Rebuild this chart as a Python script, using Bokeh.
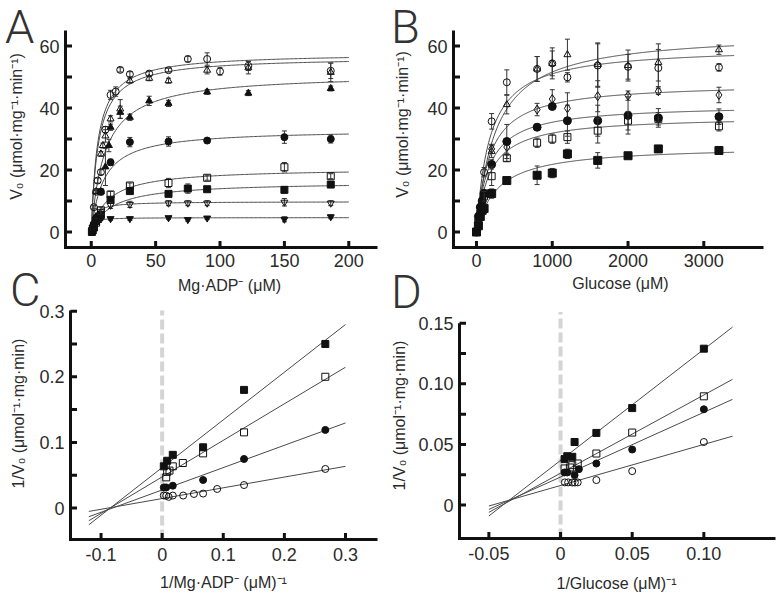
import numpy as np
from bokeh.plotting import figure
from bokeh.models import Range1d, Div
from bokeh.layouts import column, row
from bokeh.embed import file_html
from bokeh.resources import INLINE
from bokeh.core.properties import value

FONT = "Liberation Sans"
INK = "#111111"
TXT = "#2b2b2b"
CURVE = "#4a4a4a"

# ---------------- Panel A : V0 vs Mg.ADP- ----------------
a_xticks = [0, 50, 100, 150, 200]
a_yticks = [0, 20, 40, 60]
a_yminor = [10, 30, 50]

a_oc_x = [2, 3.75, 5, 7.5, 11, 15, 19, 22.5, 30, 45, 60, 75, 90, 100, 122, 186]
a_oc_y = [8, 13, 16.6, 19.3, 33, 44.2, 45.3, 52.3, 50.9, 51.1, 52.2, 55.8, 55.8, 51.8, 53.6, 52]
a_oc_e = [0.5, 0.5, 0.8, 0.8, 1, 1.5, 1.5, 0.7, 0.8, 0.8, 0.6, 0.9, 2, 1.2, 1.5, 2.5]

a_ot_x = [3.75, 7.5, 9, 11, 15, 22.5, 30, 45, 60, 90, 122, 186]
a_ot_y = [13, 25.2, 27.9, 31, 36.5, 39.7, 48.8, 49.6, 48.8, 52.2, 53, 51.5]
a_ot_e = [0.5, 0.8, 0.8, 2, 1, 3, 0.8, 0.8, 0.8, 1.2, 2, 3]

a_ft_x = [3.75, 7.5, 11, 13.7, 15, 22.5, 30, 45, 60, 90, 122, 186]
a_ft_y = [5, 13, 21, 27.9, 33.8, 38.6, 37, 42.3, 41.5, 45.2, 44.8, 46.3]
a_ft_e = [0.5, 1, 6, 2, 1, 2, 1, 1.5, 1, 0.8, 0.8, 0.8]

a_fc_x = [1, 2, 3.75, 7.5, 15, 30, 60, 90, 150, 186]
a_fc_y = [1, 2.5, 4.5, 13, 22.5, 29, 29.2, 29.5, 30.6, 30]
a_fc_e = [0.3, 0.3, 0.5, 1, 1, 1.5, 1.5, 0.8, 2, 1.3]

a_os_x = [1, 2, 3.75, 7.5, 15, 30, 60, 90, 150, 186]
a_os_y = [0.5, 1.5, 3, 7, 12.1, 15, 15.8, 17.5, 20.9, 18]
a_os_e = [0.3, 0.3, 0.5, 1, 1, 0.8, 1.5, 0.8, 1.5, 0.8]

a_fs_x = [0.5, 1, 2, 3.75, 7.5, 15, 30, 60, 75, 90, 150, 186]
a_fs_y = [0, 0.5, 1.5, 3.5, 5.5, 10.4, 13.2, 12.3, 14, 13.8, 13.6, 15.3]
a_fs_e = [0.3, 0.3, 0.3, 0.5, 0.8, 0.8, 0.8, 0.8, 1.5, 0.8, 1, 0.8]

a_otd_x = [1, 2, 3.75, 7.5, 15, 30, 60, 75, 90, 150, 186]
a_otd_y = [1, 2, 4, 6.5, 8.6, 8.9, 9.3, 9.3, 9.3, 9.6, 9.3]
a_otd_e = [0.3, 0.3, 0.5, 0.8, 1, 1, 0.8, 0.8, 0.8, 1.2, 0.8]

a_ftd_x = [1, 2, 3.75, 7.5, 15, 30, 60, 75, 90, 150, 186]
a_ftd_y = [1.5, 2.5, 3.5, 4.2, 4.3, 4.3, 4.6, 4.0, 4.5, 4.1, 4.9]
a_ftd_e = [0.3, 0.3, 0.3, 0.4, 0.5, 0.5, 0.5, 0.5, 0.5, 0.8, 0.6]

# fitted Michaelis-Menten parameters (top to bottom curve)
a_vmax = [57.7, 56.5, 51.1, 33.1, 20.6, 16.2, 9.8, 4.65]
a_km = [5.1, 5.5, 10.6, 9.5, 13.1, 16.0, 2.7, 1.5]

# ---------------- Panel B : V0 vs glucose ----------------
b_xticks = [0, 1000, 2000, 3000]
b_yticks = [0, 20, 40, 60]
b_yminor = [10, 30, 50]

b_ot_x = [25, 50, 100, 200, 400, 800, 1000, 1200, 1600, 2000, 2400, 3200]
b_ot_y = [3, 6, 12, 26, 41.1, 52.6, 54.4, 57.2, 54, 53.7, 54.7, 58.8]
b_ot_e = [0.5, 0.5, 1, 2, 3, 4, 5, 5, 7, 5, 6, 1.5]

b_oc_x = [25, 50, 100, 200, 400, 800, 1000, 1200, 1600, 2000, 2400, 3200]
b_oc_y = [4, 8, 19.3, 35.7, 48.3, 52.6, 54.4, 49.9, 53.7, 53.3, 52.9, 53.1]
b_oc_e = [0.5, 1, 1.5, 2.5, 4, 4, 4, 1.5, 7, 4, 6, 1.2]

b_od_x = [25, 50, 100, 200, 400, 800, 1000, 1200, 1600, 2000, 2400, 3200]
b_od_y = [3, 6.5, 12, 26.8, 27.4, 39.5, 42.9, 39.9, 43.8, 44.0, 45.4, 44.2]
b_od_e = [0.5, 0.5, 1, 1.5, 2, 2, 3, 5, 5, 1.5, 1, 2.5]

b_fc_x = [0, 25, 50, 75, 100, 200, 400, 800, 1000, 1200, 1600, 2000, 2400, 3200]
b_fc_y = [0, 5, 8, 10, 12.5, 21.8, 29.2, 33.8, 40.5, 35.9, 35.9, 37.6, 36.8, 37.2]
b_fc_e = [0.3, 0.5, 0.8, 1, 1, 1.5, 5.5, 1, 1, 5, 5, 6, 3, 2.5]

b_os_x = [0, 25, 50, 100, 200, 400, 800, 1000, 1200, 1600, 2000, 2400, 3200]
b_os_y = [0, 3, 6, 11.5, 18, 23.8, 28.8, 30.1, 30.6, 32.7, 35.9, 36.5, 34.1]
b_os_e = [0.3, 0.5, 0.8, 1.5, 3, 1, 1.5, 1.5, 2, 4, 3, 2, 1.5]

b_fs_x = [0, 25, 50, 75, 100, 200, 400, 800, 1000, 1200, 1600, 2000, 2400, 3200]
b_fs_y = [0, 2, 5, 7, 7.6, 12.4, 16.6, 18.3, 19.0, 25.2, 23.1, 24.6, 26.8, 26.3]
b_fs_e = [0.3, 0.3, 0.5, 0.8, 1, 1.5, 1, 3, 1.5, 1.5, 2.5, 0.8, 0.8, 0.8]

b_vmax = [64.5, 59.8, 48.1, 41.1, 37.4, 27.8]
b_km = [250, 172, 168, 161, 173, 275]

# ---------------- Panel C : double reciprocal, Mg.ADP- ----------------
c_xticks = [-0.1, 0, 0.1, 0.2, 0.3]
c_xlabels = ["-0.1", "0", "0.1", "0.2", "0.3"]
c_yticks = [0, 0.1, 0.2, 0.3]
c_ylabels = ["0", "0.1", "0.2", "0.3"]
c_yminor = [0.05, 0.15, 0.25]

c_fs_x = [0.0027, 0.0082, 0.0174, 0.067, 0.134, 0.267]
c_fs_y = [0.0635, 0.072, 0.081, 0.0925, 0.180, 0.250]
c_os_x = [0.0066, 0.0082, 0.012, 0.0174, 0.0338, 0.067, 0.134, 0.267]
c_os_y = [0.0467, 0.055, 0.057, 0.0635, 0.0686, 0.0833, 0.1153, 0.200]
c_fc_x = [0.0027, 0.0066, 0.0174, 0.067, 0.134, 0.267]
c_fc_y = [0.0314, 0.0314, 0.034, 0.0427, 0.0747, 0.119]
c_oc_x = [0.0027, 0.0066, 0.0107, 0.0174, 0.0344, 0.052, 0.067, 0.090, 0.134, 0.267]
c_oc_y = [0.019, 0.0188, 0.017, 0.019, 0.019, 0.0214, 0.022, 0.029, 0.035, 0.0595]
c_line_x = [-0.12, 0.3]
c_line_fs = [-0.0255, 0.2796]
c_line_os = [-0.0194, 0.2145]
c_line_fc = [-0.0133, 0.1296]
c_line_oc = [-0.0052, 0.0635]

# ---------------- Panel D : double reciprocal, glucose ----------------
d_xticks = [-0.05, 0, 0.05, 0.1]
d_xlabels = ["-0.05", "0", "0.05", "0.10"]
d_yticks = [0, 0.05, 0.1, 0.15]
d_ylabels = ["0", "0.05", "0.10", "0.15"]
d_yminor = [0.025, 0.075, 0.125]

d_fs_x = [0.0028, 0.0047, 0.0082, 0.0098, 0.025, 0.05, 0.1]
d_fs_y = [0.0379, 0.0403, 0.0398, 0.052, 0.0595, 0.080, 0.129]
d_os_x = [0.0028, 0.0065, 0.0082, 0.012, 0.025, 0.05, 0.1]
d_os_y = [0.0302, 0.031, 0.0329, 0.0343, 0.0425, 0.0598, 0.0897]
d_fc_x = [0.0028, 0.0047, 0.0098, 0.0128, 0.025, 0.05, 0.1]
d_fc_y = [0.0269, 0.0269, 0.0247, 0.0296, 0.0343, 0.0458, 0.079]
d_oc_x = [0.003, 0.0053, 0.0082, 0.01, 0.012, 0.025, 0.05, 0.1]
d_oc_y = [0.0187, 0.0187, 0.0186, 0.0186, 0.0187, 0.0206, 0.028, 0.052]
d_line_x = [-0.05, 0.12]
d_line_fs = [-0.009, 0.1468]
d_line_os = [-0.006, 0.1037]
d_line_fc = [-0.0036, 0.0872]
d_line_oc = [-0.0008, 0.0568]

MARKERS = {
    "oc": ("circle", False), "fc": ("circle", True),
    "ot": ("triangle", False), "ft": ("triangle", True),
    "os": ("square", False), "fs": ("square", True),
    "otd": ("inverted_triangle", False), "ftd": ("inverted_triangle", True),
    "od": ("diamond", False),
}


class Panel:
    """A figure whose plotting area covers the whole canvas; the axes
    (box L,R,T,B in canvas pixels spanning xr x yr) are drawn as glyphs."""

    def __init__(self, W, H, box, xr, yr):
        L, R, T, B = box
        self.xr, self.yr = xr, yr
        self.sx = (R - L) / (xr[1] - xr[0])
        self.sy = (B - T) / (yr[1] - yr[0])
        self.x0 = xr[0] - L / self.sx
        self.x1 = xr[1] + (W - R) / self.sx
        self.y0 = yr[0] - (H - B) / self.sy
        self.y1 = yr[1] + T / self.sy
        p = figure(width=W, height=H, x_range=Range1d(self.x0, self.x1),
                   y_range=Range1d(self.y0, self.y1), output_backend="svg",
                   toolbar_location=None, title=None, x_axis_location=None,
                   y_axis_location=None, min_border=0)
        p.outline_line_color = None
        p.xgrid.visible = False
        p.ygrid.visible = False
        self.p = p

    def X(self, px):
        return self.x0 + px / self.sx

    def Y(self, py):
        return self.y1 - py / self.sy

    def zero_line(self, ytop):
        self.p.segment(x0=[0], y0=[self.yr[0]], x1=[0], y1=[ytop], line_color="#d4d4d4",
                       line_width=4, line_dash="10 4")

    def axes(self, xt, xl, yt, yl, yminor, xlab, ylab, xlab_px, ylab_px, gap, ytop=None):
        p = self.p
        xa, xb = self.xr
        ya, yb = self.yr
        top = yb if ytop is None else ytop
        hx = 1.5 / self.sx
        hy = 1.5 / self.sy
        tx = 6.5 / self.sx
        ty = 6.5 / self.sy
        # axis rules as filled thin rectangles
        p.quad(left=[xa - hx, xa - hx], right=[xb, xa + hx],
               bottom=[ya - hy, ya - hy], top=[ya + hy, top],
               fill_color=INK, line_color=None)
        # inward ticks as filled thin rectangles
        n = len(xt)
        p.quad(left=[t - hx for t in xt], right=[t + hx for t in xt],
               bottom=[ya] * n, top=[ya + ty] * n, fill_color=INK, line_color=None)
        yall = list(yt) + list(yminor)
        m = len(yall)
        p.quad(left=[xa] * m, right=[xa + tx] * m,
               bottom=[v - hy for v in yall], top=[v + hy for v in yall],
               fill_color=INK, line_color=None)
        p.text(x=xt, y=[ya - gap / self.sy] * n, text=xl, text_font=value(FONT),
               text_font_size="18px", text_color=TXT, text_align="center",
               text_baseline="middle")
        k = len(yt)
        p.text(x=[xa - 6 / self.sx] * k, y=yt, text=yl, text_font=value(FONT),
               text_font_size="18px", text_color=TXT, text_align="right",
               text_baseline="middle")
        p.text(x=[self.X(xlab_px[0])], y=[self.Y(xlab_px[1])], text=[xlab],
               text_font=value(FONT), text_font_size="16px", text_color=TXT,
               text_align="center", text_baseline="middle")
        p.text(x=[self.X(ylab_px[0])], y=[self.Y(ylab_px[1])], text=[ylab],
               text_font=value(FONT), text_font_size="16px", text_color=TXT,
               text_align="center", text_baseline="middle", angle=np.pi / 2)


def points(p, x, y, kind, size=7, err=None):
    marker, filled = MARKERS[kind]
    if err is not None:
        lo = [a - e for a, e in zip(y, err)]
        hi = [a + e for a, e in zip(y, err)]
        p.segment(x0=x, y0=lo, x1=x, y1=hi, line_color="#333333", line_width=1)
        p.scatter(x=list(x) + list(x), y=lo + hi, marker="dash", size=5,
                  line_color="#333333", line_width=1)
    p.scatter(x=x, y=y, marker=marker, size=size, line_color=INK, line_width=1,
              fill_color=INK if filled else None)


def letter(text, left, top):
    return Div(text=text, width=40, height=40,
               styles={"position": "absolute", "left": f"{left}px", "top": f"{top}px",
                       "font-family": "Roboto", "font-weight": "300", "font-size": "47px",
                       "line-height": "40px", "color": "#333333", "z-index": "10",
                       "overflow": "visible"})


# ---------- A ----------
A = Panel(390, 298, (65, 377, 30, 247), (-20, 222.3), (-5, 65))
ax_a = np.linspace(0, 200, 201)
for vm, km in zip(a_vmax, a_km):
    A.p.line(ax_a, vm * ax_a / (km + ax_a), line_color=CURVE, line_width=1)
points(A.p, a_oc_x, a_oc_y, "oc", err=a_oc_e)
points(A.p, a_ot_x, a_ot_y, "ot", err=a_ot_e)
points(A.p, a_ft_x, a_ft_y, "ft", err=a_ft_e)
points(A.p, a_fc_x, a_fc_y, "fc", err=a_fc_e)
points(A.p, a_os_x, a_os_y, "os", err=a_os_e)
points(A.p, a_fs_x, a_fs_y, "fs", err=a_fs_e)
points(A.p, a_otd_x, a_otd_y, "otd", err=a_otd_e)
points(A.p, a_ftd_x, a_ftd_y, "ftd", err=a_ftd_e)
A.axes(a_xticks, [str(t) for t in a_xticks], a_yticks, [str(t) for t in a_yticks], a_yminor,
       "Mg·ADP⁻ (μM)", "V₀ (μmol·mg⁻¹·min⁻¹)", (229, 285), (16, 126), 13)

# ---------- B ----------
B = Panel(392, 298, (63, 373, 30, 247), (-303.6, 3788), (-5, 65))
bx = np.linspace(0, 3400, 341)
for vm, km in zip(b_vmax, b_km):
    B.p.line(bx, vm * bx / (km + bx), line_color=CURVE, line_width=1)
points(B.p, b_ot_x, b_ot_y, "ot", err=b_ot_e)
points(B.p, b_oc_x, b_oc_y, "oc", err=b_oc_e)
points(B.p, b_od_x, b_od_y, "od", size=9, err=b_od_e)
points(B.p, b_fc_x, b_fc_y, "fc", size=8, err=b_fc_e)
points(B.p, b_os_x, b_os_y, "os", err=b_os_e)
points(B.p, b_fs_x, b_fs_y, "fs", size=8, err=b_fs_e)
B.axes(b_xticks, [str(t) for t in b_xticks], b_yticks, [str(t) for t in b_yticks], b_yminor,
       "Glucose (μM)", "V₀ (μmol·mg⁻¹·min⁻¹)", (230, 283), (12, 124), 13)

# ---------- C ----------
C = Panel(390, 300, (70, 377, 12, 241), (-0.150, 0.3524), (-0.048, 0.301))
C.zero_line(0.301)
for ys in (c_line_fs, c_line_os, c_line_fc, c_line_oc):
    C.p.line(c_line_x, ys, line_color=CURVE, line_width=1)
points(C.p, c_fs_x, c_fs_y, "fs")
points(C.p, c_os_x, c_os_y, "os")
points(C.p, c_fc_x, c_fc_y, "fc")
points(C.p, c_oc_x, c_oc_y, "oc")
C.axes(c_xticks, c_xlabels, c_yticks, c_ylabels, c_yminor,
       "1/Mg·ADP⁻ (μM)⁻¹", "1/V₀ (μmol⁻¹·mg·min)", (223, 284), (18, 115), 15)

# ---------- D ----------
D = Panel(392, 300, (69, 385, 12, 240), (-0.0705, 0.150), (-0.0276, 0.1605))
D.zero_line(D.Y(13.5))
for ys in (d_line_fs, d_line_os, d_line_fc, d_line_oc):
    D.p.line(d_line_x, ys, line_color=CURVE, line_width=1)
points(D.p, d_fs_x, d_fs_y, "fs")
points(D.p, d_os_x, d_os_y, "os")
points(D.p, d_fc_x, d_fc_y, "fc")
points(D.p, d_oc_x, d_oc_y, "oc")
D.axes(d_xticks, d_xlabels, d_yticks, d_ylabels, d_yminor,
       "1/Glucose (μM)⁻¹", "1/V₀ (μmol⁻¹·mg·min)", (226, 285), (9, 117), 15, ytop=0.15)

layout = column(row(A.p, B.p), row(C.p, D.p),
                letter("A", 0, 2), letter("B", 386, 2),
                letter("C", 5, 265), letter("D", 386, 267))
open("out.html", "w").write(file_html(layout, INLINE))
